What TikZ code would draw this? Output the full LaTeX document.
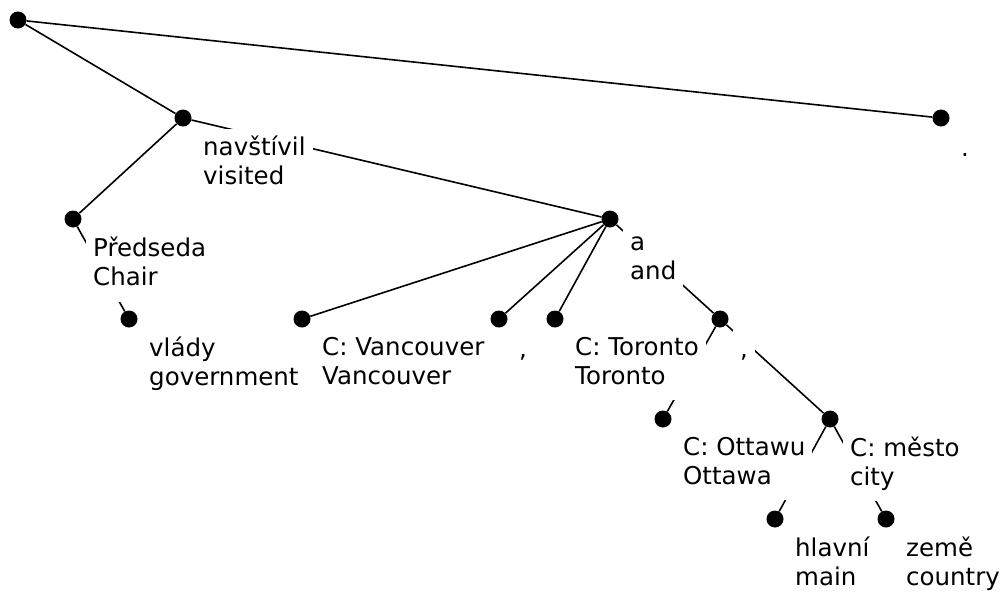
\documentclass[tikz,border=0pt]{standalone}
\usepackage{fontspec}
\setmainfont{DejaVu Sans}
\usetikzlibrary{positioning}

\begin{document}
\begin{tikzpicture}[
  x=1pt, y=-1pt,
  node distance=11pt and 13pt,
  dot/.style={circle, fill, inner sep=0pt, minimum size=17pt},
  word/.style={fill=white, inner sep=7pt, align=left, font=\fontsize{24.5}{29}\selectfont, execute at begin node=\strut},
  link/.style={line width=1.6pt}
]
\useasboundingbox (0,0) rectangle (1001,592);

% tree nodes
\node[dot] (root) at (18,20) {};
\node[dot] (visited) at (183,118) {};
\node[dot] (stop) at (941,118) {};
\node[dot] (chair) at (73,219) {};
\node[dot] (and) at (610,219) {};
\node[dot] (govt) at (129,319) {};
\node[dot] (vanc) at (302,319) {};
\node[dot] (commaA) at (499,319) {};
\node[dot] (toronto) at (555,319) {};
\node[dot] (commaB) at (720,319) {};
\node[dot] (ottawa) at (663,419) {};
\node[dot] (city) at (830,419) {};
\node[dot] (main) at (775,519) {};
\node[dot] (country) at (886,519) {};

% dependencies
\draw[link] (root) -- (visited);
\draw[link] (root) -- (stop);
\draw[link] (visited) -- (chair);
\draw[link] (visited) -- (and);
\draw[link] (chair) -- (govt);
\draw[link] (and) -- (vanc);
\draw[link] (and) -- (commaA);
\draw[link] (and) -- (toronto);
\draw[link] (and) -- (commaB);
\draw[link] (commaB) -- (ottawa);
\draw[link] (commaB) -- (city);
\draw[link] (city) -- (main);
\draw[link] (city) -- (country);

% words
\node[word, below right=of visited.center] (visitedw) {navštívil\\visited};
\node[word, below right=of stop.center] (stopw) {.};
\node[word, below right=of chair.center] (chairw) {Předseda\\Chair};
\node[word, below right=of and.center] (andw) {a\\and};
\node[word, below right=of govt.center] (govtw) {vlády\\government};
\node[word, below right=of vanc.center] (vancw) {C: Vancouver\\Vancouver};
\node[word, below right=of commaA.center] (commaAw) {,};
\node[word, below right=of toronto.center] (torontow) {C: Toronto\\Toronto};
\node[word, below right=of commaB.center] (commaBw) {,};
\node[word, below right=of ottawa.center] (ottawaw) {C: Ottawu\\Ottawa};
\node[word, below right=of city.center] (cityw) {C: město\\city};
\node[word, below right=of main.center] (mainw) {hlavní\\main};
\node[word, below right=of country.center] (countryw) {země\\country};
\end{tikzpicture}
\end{document}
